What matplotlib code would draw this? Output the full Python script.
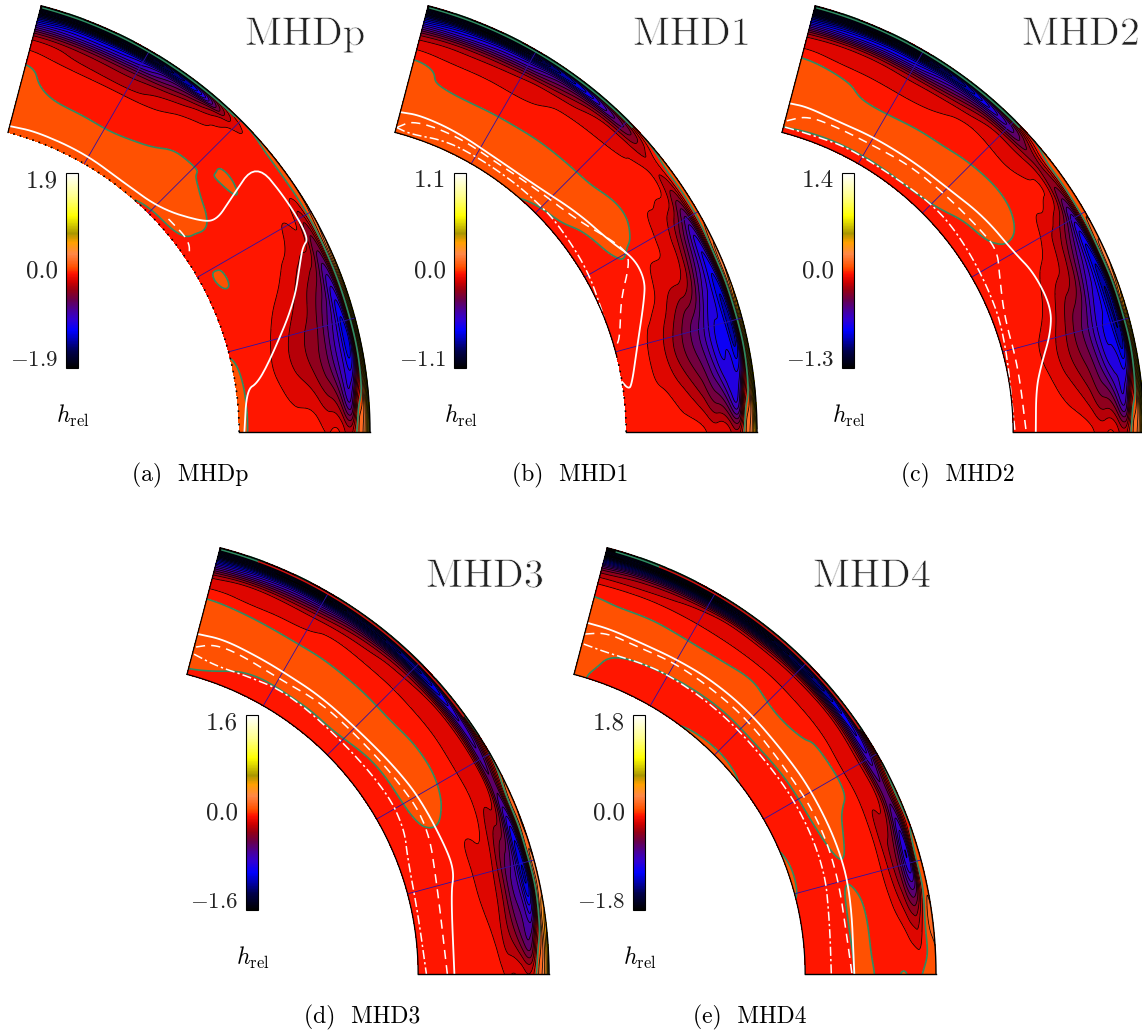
import numpy as np
import matplotlib
matplotlib.use("Agg")
import matplotlib.pyplot as plt
from matplotlib.cm import ScalarMappable
from matplotlib.colors import LinearSegmentedColormap, Normalize
from matplotlib.patheffects import Stroke
from matplotlib.tri import CubicTriInterpolator, Triangulation

plt.rcParams['mathtext.fontset'] = 'cm'
plt.rcParams['axes.unicode_minus'] = False
plt.rcParams['contour.negative_linestyle'] = 'solid'

W, H = 1142, 1032

# latitude (deg) and fractional depth of the table nodes
LAT = [0, 4, 10, 16, 22, 28, 34, 40, 46, 52, 58, 64, 70, 75.3]
DEPTH = [0, .15, .3, .45, .6, .7, .8, .87, .92, .96, 1]

# h_rel, in units of one contour step (hmax/16)
H_A = [
    [.3, .5, .4, -.3, -.5, -.5, -.4, -.3, -.2, .3, .5, .5, .5, .5],
    [-.3, -.4, -.5, -.5, -.5, .12, -.3, .5, .6, .6, .7, .6, .6, .6],
    [-.5, -.6, -1, -.8, -.5, -.5, -.4, .4, .7, .5, .1, .1, .2, .6],
    [-.5, -1, -2, -1.7, -.8, -.5, -.4, -.4, .2, -.2, -.5, -.5, -.3, .3],
    [-.5, -1.5, -3.2, -2.8, -1.6, -.6, -.4, .15, -.4, -.5, -.9, -1.05, -.9, -.4],
    [-.6, -2.5, -4.5, -3.8, -2.5, -.9, -.5, -.4, -.4, -.9, -2.2, -2.5, -2, -1.5],
    [-.8, -5, -7, -6.2, -3.5, -1.3, -.5, -.5, -.7, -2, -4, -5, -5, -5],
    [-.3, -6.5, -9.5, -9, -6, -2.2, -.5, -.5, -.9, -4, -7, -9, -9, -10],
    [1, -.3, -8.5, -8.5, -6, -3.5, -.5, -.5, -1.5, -8, -11, -13, -13, -14],
    [3, 2, -.3, -.3, -.5, -.5, -.1, -.2, -1.5, -10, -14, -15, -15, -15],
    [8, 9, 9, 9, 5, 2, 1, .5, .2, .2, .2, .2, .2, .2],
]
H_B = [
    [-.4, -.5, -.5, -.5, -.5, -.5, -.5, -.5, -.2, .2, .5, .5, .5, .5],
    [-.3, -.5, -.6, -.5, -.5, -.5, -.4, .2, .5, .6, .7, .7, .7, .7],
    [-.5, -.6, -1.3, -1.2, -.6, -.2, .5, .7, .7, .7, .7, .7, .7, .7],
    [-.5, -1.2, -2.8, -2.8, -1.2, -.7, .4, .2, -.05, -.1, -.2, -.2, -.05, .3],
    [-.5, -2.5, -4.7, -5, -2, -1, -.6, -.4, -.3, -.4, -.8, -.7, -.6, -.2],
    [-.6, -4, -6.8, -6.8, -3.2, -1.8, -.9, -.5, -.7, -.9, -1.4, -1.7, -1.7, -1.6],
    [-.7, -6.5, -9, -9, -7, -4.5, -.95, -.9, -1.2, -2, -3, -4, -4.5, -5],
    [-.3, -7.5, -9.5, -10.5, -9.5, -7.5, -2, -1.4, -2.2, -4, -6.5, -8, -9, -10],
    [1, -.5, -8.5, -9.5, -8, -6, -3, -1.8, -5, -8, -10.5, -12.5, -13, -14],
    [3, 2, -.3, -.3, -.5, -1, -.7, -1, -5, -10, -13, -15, -15, -15],
    [6, 9, 8, 6, 3, 1, .5, .2, .2, .2, .2, .2, .2, .2],
]
H_C = [
    [-.4, -.5, -.5, -.5, -.5, -.5, -.5, -.5, -.5, -.5, -.5, -.5, -.4, -.2],
    [-.4, -.5, -.5, -.5, -.5, -.5, -.4, -.1, .3, .5, .5, .5, .5, .5],
    [-.5, -.5, -1, -1, -.5, -.5, .2, .6, .7, .7, .7, .7, .7, .7],
    [-.5, -1, -2.3, -2.2, -1.2, -.6, .2, .6, .3, .1, -.02, -.02, .3, .6],
    [-.5, -2.2, -4, -4.5, -2.5, -1.2, -.5, -.4, -.4, -.5, -.8, -.7, -.5, -.1],
    [-.6, -3.5, -6, -6.5, -4, -2.5, -.7, -.9, -.8, -1, -1.6, -1.6, -1.4, -1.3],
    [-.7, -5.5, -8.5, -9, -7.5, -5, -1, -1.5, -1.6, -2.5, -3.8, -4, -4.2, -4.5],
    [-.3, -7, -9.5, -11, -10.5, -8.5, -3, -2.5, -3.5, -5.5, -8, -9, -9.5, -10],
    [1, -.5, -8.5, -10, -9.5, -7, -4, -3, -7, -9.5, -12, -13, -13.5, -14],
    [3, 2, -.3, -.3, -.4, -.5, -.5, -1, -6, -11, -14, -15, -15, -15],
    [7, 10, 8, 6, 3, 1, .5, .2, .2, .2, .2, .2, .2, .2],
]
H_D = [
    [-.5, -.5, -.5, -.5, -.5, -.5, -.5, -.5, -.5, -.5, -.5, -.5, -.4, -.2],
    [-.5, -.5, -.5, -.5, -.5, -.5, -.5, -.4, -.1, -.1, -.1, -.1, .2, .4],
    [-.5, -.5, -.5, -.5, -.3, .3, .5, .6, .7, .7, .7, .7, .7, .6],
    [-.5, -.6, -.7, -.7, -.6, .4, .7, .7, .7, .7, .7, .7, .7, .7],
    [-.5, -1, -1.3, -1.3, -.8, -.3, -.1, -.3, -.4, -.4, -.5, -.5, -.3, -.02],
    [-.6, -2.5, -3, -2.5, -1.3, -.8, -.8, -.8, -.85, -.9, -1, -1.1, -1.1, -1.2],
    [-.7, -4.5, -6, -5.5, -2.5, -1.5, -1.5, -1.6, -1.8, -2, -2.5, -3, -3, -4],
    [-.3, -5.5, -8.5, -9, -5.5, -2.8, -2.5, -3, -3.5, -4.5, -6, -7, -8, -9],
    [1, -.5, -8, -9, -7, -6, -7, -8.5, -9.5, -11, -12, -12.5, -13, -14],
    [3, 2, .1, -.2, -.5, -3, -6, -9, -12, -14, -15, -15, -15, -15],
    [6, 6, 3, 2, 1, .5, .2, .2, .2, .2, .2, .2, .2, .2],
]
H_E = [
    [-.3, -.5, -.5, .2, .1, -.4, -.5, .2, .3, .1, -.4, -.4, -.3, .3],
    [-.4, -.5, -.5, -.5, -.5, -.5, -.5, -.5, -.5, -.5, -.5, -.5, -.1, .4],
    [-.3, -.3, -.3, -.3, -.2, -.05, -.02, .1, .1, .1, .2, .3, .4, .6],
    [.2, .2, .2, -.1, .2, .6, .7, .7, .7, .7, .7, .7, .7, .7],
    [-.1, -.5, -.6, -.6, -.6, .3, .3, -.2, -.05, -.01, -.1, -.05, -.05, .1],
    [.05, -.6, -.9, -1.2, -1, -.8, -.7, -.6, -.6, -.7, -.7, -.7, -.7, -.8],
    [.05, -.7, -2.5, -3.5, -2.2, -1.5, -1.3, -1.3, -1.2, -1.3, -1.6, -2, -2.5, -3],
    [.1, -1.2, -4.5, -7.5, -4, -3.5, -3, -2.8, -3, -3.5, -4, -5, -6, -8],
    [.5, -.5, -3, -8, -6.5, -6.5, -8, -9, -10, -11, -12, -13, -13.5, -14],
    [.5, .4, .2, -1, -3, -4, -8, -11, -13, -15, -15, -15, -15, -15],
    [1, 1, .8, .5, .4, .2, .2, .2, .2, .2, .2, .2, .2, .2],
]

# white curves, (latitude, fractional depth)
SOLID_A = [(75.3, .05), (70.2, .07), (60.8, .07), (51.7, .05), (43.9, .09), (37.8, .26), (36.4, .36),
           (37.7, .54), (39.6, .87), (33, .89), (27.1, .89), (26.4, .82), (24.9, .76), (19.5, .59),
           (12.4, .31), (8.5, .17), (7.6, .08), (0, .04)]
DASH_A = [(41.7, .08), (36.4, .1), (34, .03)]
DOT_A = []
SOLID_B = [(75.3, .16), (71.8, .18), (64.9, .165), (56.5, .135), (48.1, .156), (40, .24), (32.9, .31),
           (28.7, .40), (24.9, .40), (22, .335), (14.9, .17), (8.2, .066), (8, .035), (9.3, .0)]
DASH_B = [(75.2, .04), (72.6, .13), (64.6, .137), (56.2, .11), (48.3, .135), (39.2, .2), (33.2, .32),
          (30, .376), (27.9, .336), (23.5, .17), (17.5, .065), (15.9, .016)]
DOT_B = [(75.3, .04), (72.5, .02), (65.9, .07), (59, .067), (51.6, .067), (46, .067), (41, .07),
         (31, .05), (21.8, 0)]
SOLID_C = [(75.2, .23), (72.3, .24), (66.8, .22), (59.9, .235), (52, .25), (45, .27), (37.5, .336),
           (30, .376), (25.7, .437), (19.8, .457), (15.9, .392), (11, .26), (7.2, .196), (0, .173)]
DASH_C = [(75, .095), (71.8, .176), (66.3, .176), (59.2, .178), (52, .21), (44, .224), (36.9, .25),
          (31.9, .277), (27.7, .19), (21, .096), (11.7, .09), (0, .1)]
DOT_C = [(75, .045), (69.5, .05), (63.2, .07), (54.7, .065), (45.3, .1), (38.1, .1), (28.5, .077),
         (18.2, .057), (0, .015)]
SOLID_D = [(75.1, .32), (71, .336), (65, .313), (59.8, .3), (52.6, .303), (44.5, .3), (36, .333),
           (29.2, .367), (20.1, .39), (16.3, .386), (13.3, .323), (0, .277)]
DASH_D = [(75, .22), (72.3, .277), (68, .277), (59.7, .24), (52, .267), (43.7, .263), (34.6, .29),
          (25.3, .33), (14.8, .233), (0, .223)]
DOT_D = [(75, .163), (70.6, .127), (65, .144), (57.6, .18), (45.3, .157), (33, .176), (26, .15),
         (21.4, .087), (11.1, .043), (0, .063)]
SOLID_E = [(75.3, .407), (71.6, .41), (65.8, .397), (60, .407), (53.9, .42), (46.4, .423), (37.5, .413),
           (30.3, .425), (21, .43), (12.8, .418), (0, .376)]
DASH_E = [(75.2, .32), (72, .376), (66.7, .36), (60.2, .376), (53.1, .37), (45.3, .37), (35.7, .35),
          (26, .37), (16.4, .358), (5.5, .335), (0, .358)]
DOT_E = [(75, .243), (70.9, .233), (64.4, .26), (59.5, .273), (50.8, .274), (41.3, .267), (29.6, .284),
         (18, .277), (8.7, .217), (0, .2)]

NAMES = ['MHDp', 'MHD1', 'MHD2', 'MHD3', 'MHD4']
LETTERS = ['a', 'b', 'c', 'd', 'e']
HMAX = [1.9, 1.1, 1.35, 1.6, 1.8]
TICK_TOP = ['1.9', '1.1', '1.4', '1.6', '1.8']
TICK_BOTTOM = ['-1.9', '-1.1', '-1.3', '-1.6', '-1.8']
FIELDS = [H_A, H_B, H_C, H_D, H_E]
SOLIDS = [SOLID_A, SOLID_B, SOLID_C, SOLID_D, SOLID_E]
DASHES = [DASH_A, DASH_B, DASH_C, DASH_D, DASH_E]
DOTS = [DOT_A, DOT_B, DOT_C, DOT_D, DOT_E]
GRID_LAT = [15, 30, 45, 60]
# thin zero line just under the surface: colour and latitude range per panel
RIM = [[('#2e8b62', 46, 75)], [('#2e8b62', 44, 75)], [('#2e8b62', 44, 75)],
       [('#2e8b62', 70, 75), ('#cc1010', 36, 70)], [('#2e8b62', 68, 74), ('#cc1010', 34, 68)]]

# panel offsets and text anchors, in pixels
OFFSET_X = [0, 387, 774, 179, 566]
OFFSET_Y = [0, 0, 0, 542, 542]
TITLE_X = [245, 633, 1022, 426, 813]
CBAR_X = [66, 454, 842, 246, 633]
CAPTION_X = [190, 570, 958, 362, 750]

R_IN = 0.703
LAT_MAX = 75.3
GREEN = '#2e8b62'

cmap = LinearSegmentedColormap.from_list('hrel', [
    (0.0, (0, 0, 0)), (.08, (0, 0, 70 / 255)), (.19, (0, 0, 1)), (.25, (50 / 255, 0, 210 / 255)),
    (.30, (75 / 255, 0, 150 / 255)), (.35, (105 / 255, 0, 75 / 255)), (.40, (150 / 255, 0, 20 / 255)),
    (.44, (205 / 255, 0, 0)), (.484, (1, 18 / 255, 0)), (.516, (1, 80 / 255, 0)),
    (.585, (1, 135 / 255, 70 / 255)), (.645, (1, 160 / 255, 0)), (.69, (170 / 255, 150 / 255, 0)),
    (.78, (1, 1, 0)), (.88, (1, 1, 140 / 255)), (1.0, (1, 1, 1))])


def to_xy(lat, depth):
    r = R_IN + (1 - R_IN) * np.asarray(depth, dtype=float)
    t = np.radians(lat)
    return r * np.cos(t), r * np.sin(t)


def rounded(points, passes=3):
    # corner cutting so the read-off curves do not look like polygons
    p = np.array(points, dtype=float)
    for _ in range(passes):
        q = .75 * p[:-1] + .25 * p[1:]
        r = .25 * p[:-1] + .75 * p[1:]
        mid = np.empty((2 * len(q), 2))
        mid[0::2], mid[1::2] = q, r
        p = np.vstack([p[:1], mid, p[-1:]])
    return p[:, 0], p[:, 1]


def soften_along_lat(z, width=11, passes=3):
    # the table is coarse: take out the zigzag between its columns
    kernel = np.ones(width) / width
    pad = width // 2
    for _ in range(passes):
        padded = np.pad(z, ((0, 0), (pad, pad)), mode='edge')
        z = np.apply_along_axis(lambda row: np.convolve(row, kernel, mode='valid'), 1, padded)
    return z


def px_text(x, y, s, **kw):
    return fig.text(x / W, 1 - y / H, s, **kw)


fig = plt.figure(figsize=(W / 100, H / 100), dpi=100)

lat_fine = np.linspace(1e-6, LAT_MAX - 1e-6, 302)
dep_fine = np.linspace(1e-6, 1 - 1e-6, 301)
LAT_F, DEP_F = np.meshgrid(lat_fine, dep_fine)
X_F, Y_F = to_xy(LAT_F, DEP_F)

for i, name in enumerate(NAMES):
    dx, dy = OFFSET_X[i], OFFSET_Y[i]
    ax = fig.add_axes([dx / W, 1 - (dy + 436) / H, 372 / W, 436 / H])
    ax.set_xlim(70.6 / 440.6, 442.6 / 440.6)
    ax.set_ylim(-4 / 440.6, 432 / 440.6)
    ax.axis('off')

    step = HMAX[i] / 16
    lat_g, dep_g = np.meshgrid(LAT, DEPTH)
    z = np.array(FIELDS[i]) * step
    tri = Triangulation(lat_g.ravel() / LAT_MAX, dep_g.ravel())
    z_f = CubicTriInterpolator(tri, z.ravel(), kind='min_E')(LAT_F / LAT_MAX, DEP_F)
    z_f = soften_along_lat(np.ma.filled(z_f, 0.0))

    k = np.arange(-17, 18)
    ax.contourf(X_F, Y_F, z_f, levels=k * step, cmap=cmap, norm=Normalize(-HMAX[i], HMAX[i]), extend='both')
    ax.contour(X_F, Y_F, z_f, levels=k[k != 0] * step, colors='k', linewidths=.55)
    ax.contour(X_F, Y_F, z_f, levels=[0], colors=GREEN, linewidths=1.2)

    for g in GRID_LAT:
        gx, gy = to_xy(g, [0, 1])
        ax.plot(gx, gy, color='#2c10a8', lw=.6)

    for curve, width, style in ((SOLIDS[i], 1.3, '-'), (DASHES[i], 1.1, (0, (6, 4))),
                                (DOTS[i], 1.1, (0, (6, 2, 1.5, 2)))):
        if curve:
            lat_l, dep_l = zip(*curve)
            ax.plot(*rounded(np.column_stack(to_xy(np.array(lat_l), dep_l))), color='w', lw=width, ls=style)

    for color, lat_a, lat_b in RIM[i]:
        seg = np.linspace(lat_a, lat_b, 60)
        ax.plot(*to_xy(seg, np.full_like(seg, .987)), color=color, lw=1.1)

    # sector outline
    arc = np.linspace(0, LAT_MAX, 200)
    ax.plot(*to_xy(arc, np.ones_like(arc)), color='k', lw=1, clip_on=False)
    if i == 0:
        ax.plot(*to_xy(arc, np.zeros_like(arc)), color='k', lw=1.2, ls=(0, (1, 3)))
    elif i == 1:
        low = arc[arc < 14]
        ax.plot(*to_xy(low, np.zeros_like(low)), color='k', lw=1.2, ls=(0, (1, 3)))
        high = arc[arc >= 14]
        ax.plot(*to_xy(high, np.zeros_like(high)), color='k', lw=.9)
    else:
        ax.plot(*to_xy(arc, np.zeros_like(arc)), color='k', lw=.9)
    ax.plot(*to_xy(0, np.array([0, 1])), color='k', lw=1)
    ax.plot(*to_xy(LAT_MAX, np.array([0, 1])), color='k', lw=.9)

    # colour bar
    cax = fig.add_axes([CBAR_X[i] / W, 1 - (dy + 368) / H, 12 / W, 195 / H])
    cb = fig.colorbar(ScalarMappable(Normalize(-HMAX[i], HMAX[i]), cmap), cax=cax, ticks=[])
    cb.outline.set_linewidth(.8)
    cb.outline.set_edgecolor('k')

    lab_x = CBAR_X[i] - 8
    px_text(lab_x, dy + 181, TICK_TOP[i], family='cmr10', fontsize=18, ha='right', va='center', color='#222')
    px_text(lab_x, dy + 271, '0.0', family='cmr10', fontsize=18, ha='right', va='center', color='#222')
    px_text(lab_x, dy + 360, '$' + TICK_BOTTOM[i] + '$', fontsize=16.5, ha='right', va='center', color='#222')
    px_text(CBAR_X[i] - 10, dy + 423, r'$h_{\rm rel}$', fontsize=17, ha='left', va='baseline')

    px_text(TITLE_X[i], dy + 45, name, family='cmr10', fontsize=29, color='#222222', va='baseline',
            path_effects=[Stroke(linewidth=.5, foreground='white')])
    px_text(CAPTION_X[i], dy + 481, '(' + LETTERS[i] + ')  ' + name, family='cmr10', fontsize=17,
            ha='center', va='baseline')

fig.savefig('out.png', dpi=100)
